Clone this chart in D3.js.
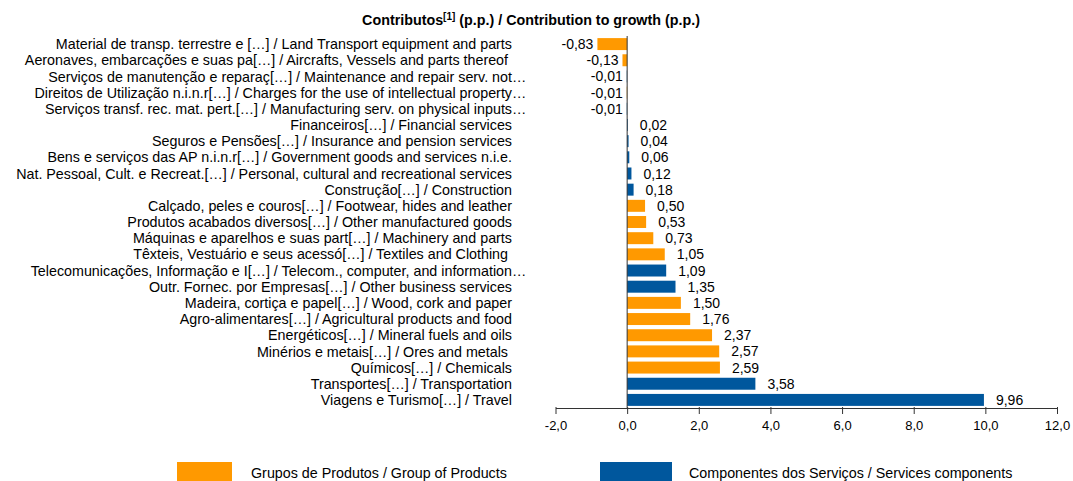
<!DOCTYPE html>
<html>
<head>
<meta charset="utf-8">
<script src="https://cdn.jsdelivr.net/npm/d3@7"></script>
<style>
  body { margin: 0; background: #fff; }
  text { font-family: "Liberation Sans", Arial, sans-serif; fill: #000; }
</style>
</head>
<body>
<div id="chart"></div>
<script>
// 1: DATA
const labelsPt = [
  "Material de transp. terrestre e […] / Land Transport equipment and parts",
  "Aeronaves, embarcações e suas pa[…] / Aircrafts, Vessels and parts thereof ",
  "Serviços de manutenção e reparaç[…] / Maintenance and repair serv. not…",
  "Direitos de Utilização n.i.n.r[…] / Charges for the use of intellectual property…",
  "Serviços transf. rec. mat. pert.[…] / Manufacturing serv. on physical inputs…",
  "Financeiros[…] / Financial services",
  "Seguros e Pensões[…] / Insurance and pension services",
  "Bens e serviços das AP n.i.n.r[…] / Government goods and services n.i.e.",
  "Nat. Pessoal, Cult. e Recreat.[…] / Personal, cultural and recreational services",
  "Construção[…] / Construction",
  "Calçado, peles e couros[…] / Footwear, hides and leather",
  "Produtos acabados diversos[…] / Other manufactured goods",
  "Máquinas e aparelhos e suas part[…] / Machinery and parts",
  "Têxteis, Vestuário e seus acessó[…] / Textiles and Clothing ",
  "Telecomunicações, Informação e I[…] / Telecom., computer, and information…",
  "Outr. Fornec. por Empresas[…] / Other business services",
  "Madeira, cortiça e papel[…] / Wood, cork and paper",
  "Agro-alimentares[…] / Agricultural products and food",
  "Energéticos[…] / Mineral fuels and oils",
  "Minérios e metais[…] / Ores and metals ",
  "Químicos[…] / Chemicals",
  "Transportes[…] / Transportation",
  "Viagens e Turismo[…] / Travel"
];
const values = [-0.83, -0.13, -0.01, -0.01, -0.01, 0.02, 0.04, 0.06, 0.12, 0.18,
  0.50, 0.53, 0.73, 1.05, 1.09, 1.35, 1.50, 1.76, 2.37, 2.57, 2.59, 3.58, 9.96];
// "P" = Grupos de Produtos, "S" = Componentes dos Serviços
const groups = ["P", "P", "S", "P", "S", "S", "S", "S", "S", "S",
  "P", "P", "P", "P", "S", "S", "P", "P", "P", "P", "P", "S", "S"];
const xTicks = [-2, 0, 2, 4, 6, 8, 10, 12];
const legendLabels = ["Grupos de Produtos / Group of Products", "Componentes dos Serviços / Services components"];

const colors = { P: "#ff9900", S: "#00579d" };

// comma decimals, plain hyphen for negatives
const fmt = p => v => d3.format("." + p + "f")(v).replace(".", ",").replace("\u2212", "-");

// 2: SVG
const W = 1073, H = 481;
const svg = d3.select("#chart").append("svg")
  .attr("width", W).attr("height", H);

const data = labelsPt.map((l, i) => ({ label: l, value: values[i], group: groups[i] }));

// 3: SCALES
const x = d3.scaleLinear().domain([-2, 12]).range([555.5, 1057]);
const y = d3.scaleBand().domain(data.map(d => d.label)).range([36, 408]).paddingInner(0.26).paddingOuter(0.13);

// title
const title = svg.append("text")
  .attr("x", 531).attr("y", 25)
  .attr("text-anchor", "middle")
  .style("font-size", "14.3px").style("font-weight", "bold");
title.append("tspan").text("Contributos");
title.append("tspan").attr("dy", -5).style("font-size", "10px").text("[1]");
title.append("tspan").attr("dy", 5).text(" (p.p.) / Contribution to growth (p.p.)");

// 4: BARS
svg.selectAll("rect.bar")
  .data(data)
  .enter().append("rect")
  .attr("class", "bar")
  .attr("x", d => x(Math.min(0, d.value)))
  .attr("y", d => y(d.label))
  .attr("width", d => Math.abs(x(d.value) - x(0)))
  .attr("height", y.bandwidth())
  .attr("fill", d => colors[d.group]);

// zero line
svg.append("line")
  .attr("x1", x(0)).attr("x2", x(0))
  .attr("y1", 36).attr("y2", 408)
  .attr("stroke", "#333").attr("stroke-width", 1);

// value labels
svg.selectAll("text.val")
  .data(data)
  .enter().append("text")
  .attr("class", "val")
  .attr("x", d => d.value < 0 ? x(d.value) - 4 : x(d.value) + 12)
  .attr("y", d => y(d.label) + y.bandwidth() / 2)
  .attr("dy", "0.36em")
  .attr("text-anchor", d => d.value < 0 ? "end" : "start")
  .style("font-size", "14px")
  .text(d => fmt(2)(d.value));

// category labels (ellipsis hangs past the right edge)
const catX = 512;
data.forEach(d => {
  const ell = d.label.endsWith("…");
  const main = ell ? d.label.slice(0, -1) : d.label;
  const yy = y(d.label) + y.bandwidth() / 2;
  svg.append("text")
    .attr("x", catX).attr("y", yy).attr("dy", "0.36em")
    .attr("text-anchor", "end")
    .style("font-size", "14.3px")
    .style("white-space", "pre")
    .text(main);
  if (ell) {
    svg.append("text")
      .attr("x", catX).attr("y", yy).attr("dy", "0.36em")
      .style("font-size", "14.3px")
      .text("…");
  }
});

// 5: AXIS
const axis = svg.append("g")
  .attr("transform", "translate(0,408)")
  .call(d3.axisBottom(x)
    .tickValues(xTicks)
    .tickSizeInner(5).tickSizeOuter(0)
    .tickFormat(fmt(1)));
axis.select(".domain").attr("stroke", "#333");
axis.selectAll(".tick line").attr("stroke", "#333").attr("y1", -1).attr("y2", 6);
axis.selectAll(".tick text")
  .attr("y", 13)
  .style("font-family", "'Liberation Sans Narrow', 'Liberation Sans', Arial, sans-serif")
  .style("font-size", "13px")
  .attr("fill", "#000");

// 6: LEGEND
const legend = [
  { key: "P", label: legendLabels[0], rx: 177, rw: 55, tx: 251 },
  { key: "S", label: legendLabels[1], rx: 600, rw: 72, tx: 689 }
];
legend.forEach(l => {
  svg.append("rect")
    .attr("x", l.rx).attr("y", 462).attr("width", l.rw).attr("height", 19)
    .attr("fill", colors[l.key]);
  svg.append("text")
    .attr("x", l.tx).attr("y", 473).attr("dy", "0.36em")
    .style("font-family", "'Liberation Sans Narrow', 'Liberation Sans', Arial, sans-serif")
    .style("font-size", "14.3px")
    .text(l.label);
});
</script>
</body>
</html>
